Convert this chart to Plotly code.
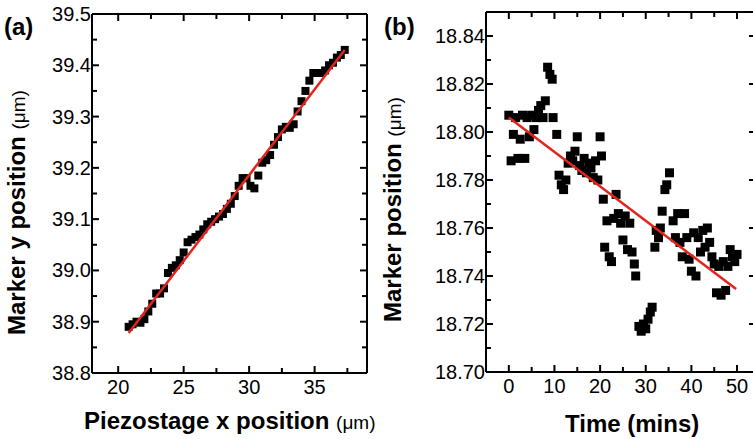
import plotly.graph_objects as go

# ---------------- Panel (a): marker y vs piezostage x ----------------
piezo_x = [20.8, 21.1, 21.4, 21.7, 22.0, 22.3, 22.6, 22.9, 23.2, 23.5,
           23.8, 24.1, 24.4, 24.7, 25.0, 25.3, 25.6, 25.9, 26.2, 26.5,
           26.8, 27.1, 27.4, 27.7, 28.0, 28.3, 28.6, 28.9, 29.2, 29.5,
           29.8, 30.1, 30.4, 30.7, 31.0, 31.3, 31.6, 31.9, 32.2, 32.5,
           32.8, 33.1, 33.4, 33.7, 34.0, 34.3, 34.6, 34.9, 35.2, 35.5,
           35.8, 36.1, 36.4, 36.7, 37.0, 37.3]
marker_y = [38.890, 38.895, 38.900, 38.898, 38.905, 38.920, 38.935, 38.955, 38.955, 38.965,
            38.995, 39.005, 39.010, 39.020, 39.035, 39.055, 39.060, 39.065, 39.070, 39.080,
            39.090, 39.095, 39.100, 39.105, 39.110, 39.120, 39.130, 39.145, 39.165, 39.180,
            39.180, 39.165, 39.160, 39.185, 39.210, 39.215, 39.225, 39.245, 39.260, 39.275,
            39.280, 39.278, 39.285, 39.310, 39.330, 39.350, 39.370, 39.385, 39.385, 39.385,
            39.390, 39.400, 39.405, 39.415, 39.420, 39.430]
fit_a_x = [20.8, 37.3]
fit_a_y = [38.878, 39.430]
a_xrange = [18, 39]
a_yrange = [38.8, 39.5]
a_xticks_major = [20, 25, 30, 35]
a_xticks_minor = [22.5, 27.5, 32.5, 37.5]
a_yticks_major = [38.8, 38.9, 39.0, 39.1, 39.2, 39.3, 39.4, 39.5]
a_yticks_minor = [38.85, 38.95, 39.05, 39.15, 39.25, 39.35, 39.45]

# ---------------- Panel (b): marker position vs time ----------------
time_min = [0.0, 0.5, 1.0, 1.5, 2.0, 2.5, 3.0, 3.5, 4.0, 4.5,
            5.0, 5.5, 6.0, 6.5, 7.0, 7.5, 8.0, 8.5, 9.0, 9.5,
            9.7, 10.5, 11.0, 11.5, 12.0, 12.5, 13.0, 13.5, 14.0, 14.5,
            15.0, 15.5, 16.0, 16.5, 17.0, 17.5, 18.0, 18.5, 19.0, 19.5,
            20.0, 20.3, 20.7, 21.0, 21.5, 22.0, 22.5, 23.0, 23.5, 24.0,
            24.5, 25.0, 25.5, 26.0, 26.5, 27.0, 27.5, 27.8, 28.5, 29.0,
            29.5, 30.0, 30.5, 31.0, 31.4, 32.0, 32.3, 32.8, 33.2, 33.6,
            34.2, 34.6, 35.2, 36.0, 36.5, 37.0, 37.5, 38.0, 38.5, 39.0,
            39.5, 40.0, 40.5, 41.0, 41.5, 42.0, 42.5, 43.0, 43.5, 44.0,
            44.5, 45.0, 45.5, 46.0, 46.5, 47.0, 47.5, 48.0, 48.5, 49.0,
            49.5, 50.0]
marker_pos = [18.807, 18.788, 18.799, 18.806, 18.789, 18.797, 18.807, 18.789, 18.806, 18.798,
              18.807, 18.801, 18.806, 18.809, 18.811, 18.806, 18.813, 18.827, 18.824, 18.822,
              18.806, 18.799, 18.782, 18.778, 18.776, 18.780, 18.787, 18.790, 18.788, 18.792,
              18.798, 18.786, 18.784, 18.789, 18.783, 18.787, 18.785, 18.781, 18.788, 18.780,
              18.798, 18.790, 18.772, 18.752, 18.763, 18.748, 18.746, 18.764, 18.774, 18.766,
              18.762, 18.755, 18.765, 18.751, 18.762, 18.750, 18.745, 18.740, 18.719, 18.717,
              18.720, 18.718, 18.722, 18.725, 18.727, 18.752, 18.759, 18.756, 18.760, 18.767,
              18.776, 18.778, 18.783, 18.763, 18.756, 18.766, 18.754, 18.748, 18.766, 18.756,
              18.747, 18.742, 18.758, 18.740, 18.756, 18.750, 18.759, 18.752, 18.760, 18.754,
              18.748, 18.745, 18.733, 18.744, 18.732, 18.746, 18.734, 18.744, 18.751, 18.748,
              18.746, 18.749]
fit_b_x = [0.0, 49.8]
fit_b_y = [18.806, 18.7346]
b_xrange = [-5, 53.5]
b_yrange = [18.70, 18.85]
b_xticks_major = [0, 10, 20, 30, 40, 50]
b_xticks_minor = [5, 15, 25, 35, 45]
b_yticks_major = [18.70, 18.72, 18.74, 18.76, 18.78, 18.80, 18.82, 18.84]
b_yticks_minor = [18.71, 18.73, 18.75, 18.77, 18.79, 18.81, 18.83]

W, H = 753, 439
FONT = "Liberation Sans, Arial, Helvetica, sans-serif"
RED = "#e3241b"
INK = "#000000"

# plot-area boxes in page pixels
A_BOX = dict(l=92, r=367, t=14, b=373)
B_BOX = dict(l=486, r=753, t=12, b=372)


def fx(p):
    return p / W


def fy(p):
    return 1 - p / H


tickfont = dict(family=FONT, size=20, color="black")

fig = go.Figure()
fig.add_trace(go.Scatter(x=piezo_x, y=marker_y, mode="markers",
                         marker=dict(symbol="square", size=8, color="black"),
                         xaxis="x", yaxis="y"))
fig.add_trace(go.Scatter(x=fit_a_x, y=fit_a_y, mode="lines",
                         line=dict(color=RED, width=2.5), xaxis="x", yaxis="y"))
fig.add_trace(go.Scatter(x=time_min, y=marker_pos, mode="markers",
                         marker=dict(symbol="square", size=9, color="black"),
                         xaxis="x2", yaxis="y2"))
fig.add_trace(go.Scatter(x=fit_b_x, y=fit_b_y, mode="lines",
                         line=dict(color=RED, width=2.5), xaxis="x2", yaxis="y2"))

common = dict(showgrid=False, zeroline=False, showline=False,
              ticks="", tickfont=tickfont, tickprefix="<b>", ticksuffix="</b>")

fig.update_layout(
    template="none",
    width=W, height=H,
    margin=dict(l=0, r=0, t=0, b=0, autoexpand=False),
    paper_bgcolor="white", plot_bgcolor="rgba(0,0,0,0)",
    showlegend=False,
    xaxis=dict(domain=[fx(A_BOX["l"]), fx(A_BOX["r"])], range=a_xrange, anchor="y",
               tickvals=a_xticks_major, **common),
    yaxis=dict(domain=[fy(A_BOX["b"]), fy(A_BOX["t"])], range=a_yrange, anchor="x",
               tickvals=a_yticks_major, tickformat=".1f", **common),
    xaxis2=dict(domain=[fx(B_BOX["l"]), 1.0], range=b_xrange, anchor="y2",
                tickvals=b_xticks_major, **common),
    yaxis2=dict(domain=[fy(B_BOX["b"]), fy(B_BOX["t"])], range=b_yrange, anchor="x2",
                tickvals=b_yticks_major, tickformat=".2f", **common),
)

# ---- frame lines (as thin lines in paper coordinates) ----
LW = 2


def seg(x0, y0, x1, y1):
    fig.add_shape(type="line", xref="paper", yref="paper",
                  x0=fx(x0), y0=fy(y0), x1=fx(x1), y1=fy(y1),
                  line=dict(color=INK, width=LW), layer="above")


for box, right in ((A_BOX, True), (B_BOX, False)):
    seg(box["l"], box["t"], box["l"], box["b"])
    seg(box["l"], box["t"], box["r"], box["t"])
    seg(box["l"], box["b"], box["r"], box["b"])
    if right:
        seg(box["r"], box["t"], box["r"], box["b"])


# ---- tick marks: positioned with the axes, length as a fraction of the domain ----
def xticks(xref, ydom, vals, box, length):
    frac = length / (box["b"] - box["t"])
    for v in vals:
        for y0, y1 in ((0, frac), (1 - frac, 1)):
            fig.add_shape(type="line", xref=xref, yref=ydom,
                          x0=v, x1=v, y0=y0, y1=y1,
                          line=dict(color=INK, width=LW), layer="above")


def yticks(xdom, yref, vals, box, length, sides=(0, 1), rlen=None):
    width = box["r"] - box["l"]
    for v in vals:
        for side in sides:
            ln = length if side == 0 or rlen is None else rlen
            frac = ln / width
            x0, x1 = (0, frac) if side == 0 else (1 - frac, 1)
            fig.add_shape(type="line", xref=xdom, yref=yref,
                          x0=x0, x1=x1, y0=v, y1=v,
                          line=dict(color=INK, width=LW), layer="above")


xticks("x", "y domain", a_xticks_major, A_BOX, 7)
xticks("x", "y domain", a_xticks_minor, A_BOX, 5)
yticks("x domain", "y", a_yticks_major, A_BOX, 7)
yticks("x domain", "y", a_yticks_minor, A_BOX, 5)
xticks("x2", "y2 domain", b_xticks_major, B_BOX, 7)
xticks("x2", "y2 domain", b_xticks_minor, B_BOX, 5)
yticks("x2 domain", "y2", b_yticks_major, B_BOX, 7, rlen=4)
yticks("x2 domain", "y2", b_yticks_minor, B_BOX, 5, sides=(0,))

title_font = dict(family=FONT, size=24, color="black")
mu = "<span style='font-size:19px'>(μm)</span>"
annotations = [
    dict(text="<b>(a)</b>", x=fx(18), y=fy(26)),
    dict(text="<b>(b)</b>", x=fx(399), y=fy(26)),
    dict(text="<b>Marker y position</b> " + mu, x=fx(16), y=fy(213), textangle=-90),
    dict(text="<b>Piezostage x position</b> " + mu, x=fx(230), y=fy(420)),
    dict(text="<b>Marker position</b> " + mu, x=fx(393), y=fy(210), textangle=-90),
    dict(text="<b>Time (mins)</b>", x=fx(632), y=fy(423)),
]
for a in annotations:
    fig.add_annotation(xref="paper", yref="paper", showarrow=False,
                       xanchor="center", yanchor="middle", font=title_font, **a)

fig.write_html("out.html", config={"displayModeBar": False},
               post_script="document.body.style.margin='0';document.body.style.overflow='hidden';")
